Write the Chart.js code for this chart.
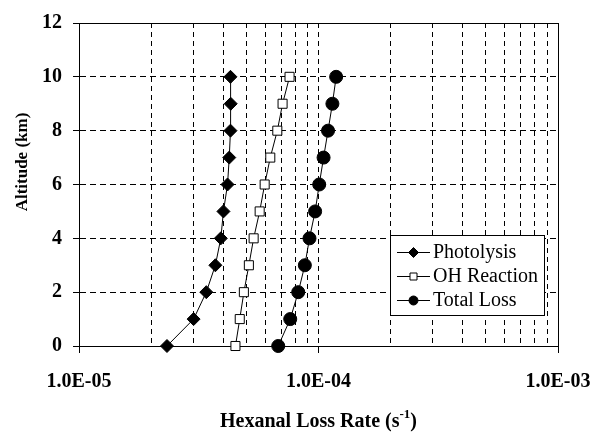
<!DOCTYPE html>
<html>
<head>
<meta charset="utf-8">
<script src="https://cdn.jsdelivr.net/npm/chart.js@4/dist/chart.umd.min.js"></script>
<style>
  html, body { margin: 0; padding: 0; background: #fff; }
  canvas { display: block; }
</style>
</head>
<body>
<canvas id="lossChart" width="594" height="432"></canvas>
<script>
// Altitude (km) for each point
const altitudes = [0, 1, 2, 3, 4, 5, 6, 7, 8, 9, 10];

// Loss rates (s^-1)
const photolysis = [2.33e-5, 3.01e-5, 3.40e-5, 3.71e-5, 3.91e-5, 4.01e-5, 4.17e-5, 4.24e-5, 4.29e-5, 4.30e-5, 4.29e-5];
const ohReaction = [4.50e-5, 4.69e-5, 4.88e-5, 5.12e-5, 5.36e-5, 5.68e-5, 5.96e-5, 6.29e-5, 6.73e-5, 7.08e-5, 7.57e-5];
const totalLoss = [6.79e-5, 7.62e-5, 8.23e-5, 8.77e-5, 9.17e-5, 9.68e-5, 1.007e-4, 1.05e-4, 1.096e-4, 1.143e-4, 1.185e-4];

const seriesNames = ["Photolysis", "OH Reaction", "Total Loss"];

// x axis decades and their labels
const xDecades = [1e-5, 1e-4, 1e-3];
const xTickLabels = ["1.0E-05", "1.0E-04", "1.0E-03"];
const yTicks = [0, 2, 4, 6, 8, 10, 12];

const FONT = "'Liberation Serif', 'Times New Roman', serif";

function toPoints(values) {
  return values.map((v, i) => ({ x: v, y: altitudes[i] }));
}

function isDecade(v) {
  const l = Math.log10(v);
  return Math.abs(l - Math.round(l)) < 1e-6;
}

// grid values: every 1..9 inside each decade, then the last decade
const xGridValues = [];
for (let d = 0; d < xDecades.length - 1; d++) {
  for (let m = 1; m <= 9; m++) {
    xGridValues.push(m * xDecades[d]);
  }
}
xGridValues.push(xDecades[xDecades.length - 1]);

// Solid frame round the plot area
const framePlugin = {
  id: "frame",
  beforeDatasetsDraw(chart) {
    const { ctx, chartArea: a } = chart;
    ctx.save();
    ctx.strokeStyle = "#000";
    ctx.lineWidth = 1;
    ctx.setLineDash([]);
    const l = Math.round(a.left) + 0.5;
    const t = Math.round(a.top) + 0.5;
    const r = Math.round(a.right) + 0.5;
    const b = Math.round(a.bottom) + 0.5;
    ctx.strokeRect(l, t, r - l, b - t);
    ctx.restore();
  },
};

// Axis titles (x title needs a superscript)
const titlesPlugin = {
  id: "titles",
  afterDraw(chart) {
    const { ctx, chartArea: a } = chart;
    ctx.save();
    ctx.fillStyle = "#000";

    // y title
    ctx.font = "bold 17px " + FONT;
    ctx.textAlign = "center";
    ctx.textBaseline = "middle";
    ctx.translate(23, 162);
    ctx.rotate(-Math.PI / 2);
    ctx.fillText("Altitude (km)", 0, 0);
    ctx.setTransform(1, 0, 0, 1, 0, 0);

    // x title
    const main = "Hexanal Loss Rate (s";
    const sup = "-1";
    const end = ")";
    ctx.font = "bold 20px " + FONT;
    const wMain = ctx.measureText(main).width;
    const wEnd = ctx.measureText(end).width;
    ctx.font = "bold 13px " + FONT;
    const wSup = ctx.measureText(sup).width;
    const total = wMain + wSup + wEnd;
    let x = (a.left + a.right) / 2 - total / 2;
    const base = 427;
    ctx.textAlign = "left";
    ctx.textBaseline = "alphabetic";
    ctx.font = "bold 20px " + FONT;
    ctx.fillText(main, x, base);
    x += wMain;
    ctx.font = "bold 13px " + FONT;
    ctx.fillText(sup, x, base - 9);
    x += wSup;
    ctx.font = "bold 20px " + FONT;
    ctx.fillText(end, x, base);
    ctx.restore();
  },
};

function drawMarker(ctx, style, x, y, size) {
  ctx.beginPath();
  if (style === "rectRot") {
    ctx.moveTo(x, y - size);
    ctx.lineTo(x + size, y);
    ctx.lineTo(x, y + size);
    ctx.lineTo(x - size, y);
    ctx.closePath();
  } else if (style === "rect") {
    ctx.rect(x - size, y - size, size * 2, size * 2);
  } else {
    ctx.arc(x, y, size, 0, Math.PI * 2);
  }
  ctx.fill();
  ctx.stroke();
}

// Boxed legend inside the plot, bottom right
const boxLegendPlugin = {
  id: "boxLegend",
  afterDraw(chart) {
    const { ctx } = chart;
    const left = 390, top = 235, right = 544, bottom = 315;
    ctx.save();
    ctx.fillStyle = "#fff";
    ctx.fillRect(left, top, right - left, bottom - top);
    ctx.strokeStyle = "#000";
    ctx.lineWidth = 1;
    ctx.setLineDash([]);
    ctx.strokeRect(left + 0.5, top + 0.5, right - left, bottom - top);

    const sizes = { rectRot: 5, rect: 3.5, circle: 4.5 };
    chart.data.datasets.forEach((ds, i) => {
      const y = top + 17 + i * 24;
      ctx.strokeStyle = "#000";
      ctx.lineWidth = 1;
      ctx.beginPath();
      ctx.moveTo(397, y + 0.5);
      ctx.lineTo(430, y + 0.5);
      ctx.stroke();
      ctx.fillStyle = ds.pointBackgroundColor;
      drawMarker(ctx, ds.pointStyle, 413.5, y + 0.5, sizes[ds.pointStyle]);
      ctx.fillStyle = "#000";
      ctx.font = "20px " + FONT;
      ctx.textAlign = "left";
      ctx.textBaseline = "middle";
      ctx.fillText(ds.label, 433, y + 1);
    });
    ctx.restore();
  },
};

const ctx = document.getElementById("lossChart").getContext("2d");

new Chart(ctx, {
  type: "line",
  data: {
    datasets: [
      {
        label: seriesNames[0],
        data: toPoints(photolysis),
        borderColor: "#000",
        borderWidth: 1,
        pointStyle: "rectRot",
        pointRadius: 6.5,
        pointBackgroundColor: "#000",
        pointBorderColor: "#000",
        pointBorderWidth: 1,
        clip: false,
      },
      {
        label: seriesNames[1],
        data: toPoints(ohReaction),
        borderColor: "#000",
        borderWidth: 1,
        pointStyle: "rect",
        pointRadius: 6.4,
        pointBackgroundColor: "#fff",
        pointBorderColor: "#000",
        pointBorderWidth: 1,
        clip: false,
      },
      {
        label: seriesNames[2],
        data: toPoints(totalLoss),
        borderColor: "#000",
        borderWidth: 1,
        pointStyle: "circle",
        pointRadius: 6.5,
        pointBackgroundColor: "#000",
        pointBorderColor: "#000",
        pointBorderWidth: 1,
        clip: false,
      },
    ],
  },
  options: {
    responsive: false,
    animation: false,
    layout: { padding: { top: 16, right: 36, left: 0, bottom: 0 } },
    plugins: {
      legend: { display: false },
      tooltip: { enabled: false },
    },
    scales: {
      x: {
        type: "logarithmic",
        position: "bottom",
        min: xDecades[0],
        max: xDecades[xDecades.length - 1],
        afterBuildTicks(scale) {
          scale.ticks = xGridValues.map((v) => ({ value: v }));
        },
        afterFit(scale) {
          scale.height = 86;
          scale.paddingLeft = 0;
          scale.paddingRight = 0;
        },
        ticks: {
          autoSkip: false,
          maxRotation: 0,
          minRotation: 0,
          padding: 17,
          color: "#000",
          font: { family: FONT, size: 20, weight: "bold" },
          callback(value) {
            const idx = xDecades.findIndex((d) => Math.abs(d - value) / d < 1e-6);
            return idx >= 0 ? xTickLabels[idx] : "";
          },
        },
        grid: {
          color: "#000",
          lineWidth: 1,
          tickLength: 7,
          tickBorderDash: [],
          tickColor(c) {
            return c.tick && isDecade(c.tick.value) ? "#000" : "rgba(0,0,0,0)";
          },
        },
        border: { color: "#000", width: 1, dash: [5, 4] },
      },
      y: {
        min: yTicks[0],
        max: yTicks[yTicks.length - 1],
        afterBuildTicks(scale) {
          scale.ticks = yTicks.map((v) => ({ value: v }));
        },
        afterFit(scale) {
          scale.width = 79;
        },
        ticks: {
          padding: 11,
          color: "#000",
          font: { family: FONT, size: 20, weight: "bold" },
        },
        grid: {
          color: "#000",
          lineWidth: 1,
          tickLength: 6,
          tickBorderDash: [],
          tickColor: "#000",
        },
        border: { color: "#000", width: 1, dash: [6, 4] },
      },
    },
  },
  plugins: [framePlugin, titlesPlugin, boxLegendPlugin],
});
</script>
</body>
</html>
